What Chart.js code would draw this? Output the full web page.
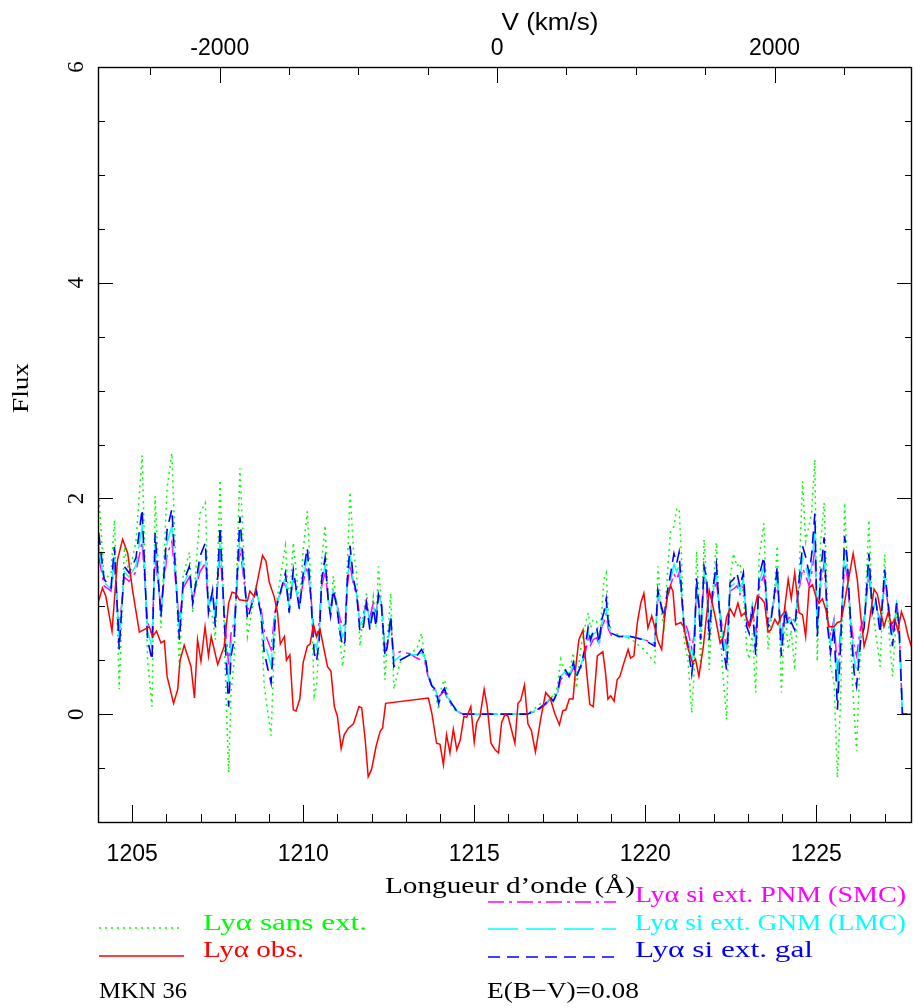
<!DOCTYPE html>
<html>
<head>
<meta charset="utf-8">
<title>MKN 36 - Lyα</title>
<script src="https://cdn.jsdelivr.net/npm/chart.js@4.4.1/dist/chart.umd.min.js"></script>
<style>
  html, body { margin: 0; padding: 0; background: #fff; }
  canvas { display: block; }
</style>
</head>
<body>
<canvas id="spectrum" width="914" height="1008"></canvas>
<script>
// wavelength grid of the model profiles (Å)
const modelWave = [
  1204.02, 1204.18, 1204.38, 1204.48, 1204.62, 1204.77, 1204.91, 1205.11, 1205.29, 1205.45,
  1205.58, 1205.67, 1205.84, 1206.02, 1206.16, 1206.38, 1206.49, 1206.67, 1206.77, 1206.98,
  1207.14, 1207.23, 1207.35, 1207.43, 1207.57, 1207.74, 1207.82, 1207.89, 1207.98, 1208.15,
  1208.37, 1208.62, 1208.76, 1208.86, 1209.06, 1209.2, 1209.48, 1209.59, 1209.71, 1209.89,
  1210.0, 1210.12, 1210.22, 1210.32, 1210.39, 1210.47, 1210.54, 1210.64, 1210.73, 1210.8,
  1210.88, 1210.98, 1211.08, 1211.15, 1211.22, 1211.29, 1211.37, 1211.47, 1211.56, 1211.66,
  1211.76, 1211.85, 1211.95, 1212.05, 1212.13, 1212.2, 1212.29, 1212.39, 1212.46, 1212.56,
  1212.65, 1212.83, 1213.12, 1213.32, 1213.46, 1213.56, 1213.64, 1213.76, 1213.87, 1213.96,
  1214.05, 1214.13, 1214.21, 1214.34, 1214.49, 1214.68, 1216.55, 1216.84, 1217.09, 1217.22,
  1217.31, 1217.43, 1217.53, 1217.67, 1217.77, 1217.9, 1217.99, 1218.11, 1218.23, 1218.33,
  1218.4, 1218.48, 1218.58, 1218.65, 1218.73, 1218.79, 1218.86, 1218.92, 1219.01, 1219.23,
  1219.57, 1219.96, 1220.28, 1220.37, 1220.47, 1220.55, 1220.65, 1220.74, 1220.84, 1220.92,
  1220.99, 1221.06, 1221.13, 1221.25, 1221.36, 1221.43, 1221.5, 1221.57, 1221.62, 1221.72,
  1221.8, 1221.87, 1221.96, 1222.08, 1222.16, 1222.26, 1222.38, 1222.48, 1222.58, 1222.68,
  1222.77, 1222.87, 1222.97, 1223.04, 1223.13, 1223.23, 1223.33, 1223.47, 1223.59, 1223.67,
  1223.79, 1223.86, 1223.98, 1224.09, 1224.18, 1224.27, 1224.37, 1224.5, 1224.6, 1224.69,
  1224.79, 1224.86, 1224.96, 1225.03, 1225.13, 1225.23, 1225.33, 1225.42, 1225.52, 1225.62,
  1225.72, 1225.83, 1225.91, 1226.01, 1226.11, 1226.18, 1226.3, 1226.4, 1226.54, 1226.64,
  1226.74, 1226.87, 1227.0, 1227.13, 1227.23, 1227.35, 1227.42, 1227.52, 1227.8
];

// Lya without extinction (green, dotted)
const sansExt = [
  2.05, 1.25, 1.3, 1.8, 0.23, 1.55, 1.3, 1.6, 2.4, 0.5,
  0.07, 2.02, 0.8, 2.1, 2.42, 0.41, 1.28, 1.5, 0.94, 1.86,
  1.96, 1.0, 0.9, 0.69, 2.17, 0.2, -0.54, 0.2, 0.5, 2.28,
  0.72, 1.2, 0.94, 0.26, -0.2, 1.0, 1.56, 1.0, 1.59, 1.0,
  1.52, 1.88, 1.25, 0.17, 0.26, 0.69, 1.43, 1.75, 1.06, 0.91,
  1.28, 1.0, 0.69, 0.44, 0.63, 1.37, 2.06, 1.52, 1.31, 0.63,
  0.94, 1.12, 0.81, 1.09, 0.81, 1.37, 1.0, 0.32, 0.69, 1.12,
  0.23, 0.48, 0.57, 0.6, 0.75, 0.5, 0.38, 0.26, 0.17, 0.04,
  0.26, 0.32, 0.2, 0.07, 0.02, 0.0, 0.0, 0.07, 0.14, 0.19,
  0.15, 0.25, 0.51, 0.38, 0.38, 0.57, 0.24, 0.6, 0.8, 0.94,
  0.8, 0.88, 0.86, 0.7, 0.95, 1.25, 1.31, 0.94, 0.75, 0.74,
  0.7, 0.6, 0.48, 1.37, 0.94, 0.81, 1.3, 1.7, 1.74, 1.9,
  1.91, 1.46, 0.69, 0.5, 0.01, 0.38, 1.51, 1.06, 0.41, 1.62,
  1.2, 0.41, 1.06, 1.59, 1.0, 0.41, -0.05, 1.25, 1.49, 1.37,
  1.4, 1.12, 0.6, 0.51, 0.75, 0.2, 1.46, 1.77, 0.6, 0.85,
  1.2, 1.56, 0.2, 0.94, 0.6, 0.78, 0.41, 1.3, 2.16, 1.6,
  1.75, 1.85, 2.36, 0.49, 1.6, 1.96, 1.0, 0.45, 0.3, -0.59,
  0.2, 1.96, 1.37, 0.63, 0.0, -0.34, 0.69, 0.8, 1.8, 1.0,
  0.75, 0.44, 1.48, 0.75, 0.35, 0.94, 0.75, 0.0, 0.0
];

// Lya with galactic extinction (blue, dashed)
const galExt = [
  1.68, 1.25, 1.17, 1.55, 0.6, 1.37, 1.31, 1.45, 1.9, 0.69,
  0.5, 1.68, 0.9, 1.71, 1.9, 0.69, 1.22, 1.37, 1.03, 1.46,
  1.59, 0.94, 1.15, 0.81, 1.74, 0.54, 0.07, 0.54, 0.69, 1.83,
  0.88, 1.15, 0.94, 0.57, 0.29, 0.97, 1.31, 0.94, 1.34, 0.97,
  1.31, 1.54, 1.1, 0.57, 0.49, 0.69, 1.25, 1.45, 1.06, 0.91,
  1.15, 1.0, 0.75, 0.63, 0.67, 1.25, 1.56, 1.25, 1.12, 0.76,
  0.81, 1.02, 0.78, 0.98, 0.81, 1.11, 1.0, 0.54, 0.63, 0.91,
  0.44, 0.5, 0.55, 0.54, 0.6, 0.54, 0.38, 0.26, 0.23, 0.1,
  0.2, 0.24, 0.16, 0.1, 0.03, 0.0, 0.0, 0.04, 0.1, 0.16,
  0.12, 0.2, 0.37, 0.41, 0.35, 0.48, 0.35, 0.44, 0.6, 0.8,
  0.69, 0.77, 0.8, 0.66, 0.88, 0.94, 1.07, 0.85, 0.75, 0.72,
  0.72, 0.69, 0.63, 1.15, 1.0, 0.88, 1.14, 1.3, 1.49, 1.4,
  1.5, 1.15, 0.81, 0.63, 0.37, 0.57, 1.26, 1.0, 0.69, 1.37,
  1.25, 0.69, 1.12, 1.39, 1.0, 0.66, 0.41, 1.22, 1.25, 1.31,
  1.18, 1.31, 0.81, 0.75, 1.0, 0.55, 1.28, 1.46, 0.81, 0.85,
  1.15, 1.37, 0.54, 0.97, 0.81, 0.85, 0.78, 1.25, 1.56, 1.46,
  1.31, 1.46, 1.86, 0.72, 1.31, 1.64, 0.81, 0.57, 0.81, 0.04,
  0.69, 1.65, 1.43, 0.81, 0.38, 0.26, 0.69, 0.8, 1.49, 0.94,
  1.06, 0.75, 1.34, 0.94, 0.63, 1.03, 0.81, 0.0, 0.0
];

// Lya with LMC-type extinction (cyan, long dashes)
const lmcExt = [
  1.56, 1.22, 1.16, 1.46, 0.7, 1.32, 1.27, 1.38, 1.74, 0.77,
  0.62, 1.56, 0.94, 1.59, 1.74, 0.77, 1.2, 1.32, 1.04, 1.39,
  1.49, 0.97, 1.14, 0.87, 1.61, 0.65, 0.28, 0.65, 0.77, 1.68,
  0.92, 1.14, 0.97, 0.68, 0.45, 1.0, 1.27, 0.97, 1.29, 1.0,
  1.27, 1.45, 1.1, 0.68, 0.61, 0.77, 1.22, 1.38, 1.07, 0.95,
  1.14, 1.02, 0.82, 0.72, 0.76, 1.22, 1.47, 1.22, 1.12, 0.83,
  0.87, 1.04, 0.84, 1.0, 0.87, 1.11, 1.02, 0.57, 0.64, 0.87,
  0.49, 0.54, 0.55, 0.55, 0.57, 0.52, 0.38, 0.27, 0.22, 0.13,
  0.2, 0.23, 0.16, 0.1, 0.03, 0.0, 0.0, 0.04, 0.1, 0.15,
  0.12, 0.2, 0.35, 0.4, 0.35, 0.46, 0.37, 0.44, 0.58, 0.76,
  0.67, 0.74, 0.77, 0.66, 0.84, 0.89, 1.0, 0.82, 0.74, 0.72,
  0.72, 0.69, 0.65, 1.12, 1.0, 0.9, 1.11, 1.24, 1.39, 1.32,
  1.4, 1.12, 0.85, 0.7, 0.5, 0.66, 1.21, 1.0, 0.75, 1.3,
  1.2, 0.75, 1.1, 1.31, 1.0, 0.73, 0.53, 1.18, 1.2, 1.25,
  1.14, 1.25, 0.85, 0.8, 1.0, 0.64, 1.22, 1.37, 0.85, 0.88,
  1.12, 1.3, 0.63, 0.98, 0.85, 0.88, 0.82, 1.2, 1.45, 1.37,
  1.25, 1.37, 1.69, 0.78, 1.25, 1.51, 0.85, 0.66, 0.85, 0.23,
  0.75, 1.52, 1.34, 0.85, 0.5, 0.41, 0.75, 0.84, 1.39, 0.95,
  1.05, 0.8, 1.27, 0.95, 0.7, 1.02, 0.85, 0.0, 0.0
];

// Lya with SMC-type extinction (magenta, dash-dot)
const smcExt = [
  1.46, 1.19, 1.14, 1.38, 0.79, 1.27, 1.23, 1.32, 1.6, 0.85,
  0.73, 1.46, 0.98, 1.48, 1.6, 0.85, 1.17, 1.27, 1.06, 1.32,
  1.4, 1.0, 1.13, 0.92, 1.5, 0.75, 0.46, 0.75, 0.85, 1.55,
  0.96, 1.13, 1.0, 0.77, 0.6, 1.02, 1.23, 1.0, 1.25, 1.02,
  1.23, 1.37, 1.1, 0.77, 0.72, 0.85, 1.19, 1.32, 1.08, 0.98,
  1.13, 1.04, 0.88, 0.81, 0.83, 1.19, 1.39, 1.19, 1.11, 0.89,
  0.92, 1.05, 0.9, 1.03, 0.92, 1.11, 1.04, 0.6, 0.66, 0.83,
  0.54, 0.58, 0.56, 0.52, 0.5, 0.48, 0.36, 0.26, 0.22, 0.16,
  0.19, 0.21, 0.15, 0.09, 0.03, 0.0, 0.0, 0.03, 0.09, 0.14,
  0.12, 0.19, 0.32, 0.38, 0.34, 0.43, 0.38, 0.42, 0.54, 0.7,
  0.64, 0.69, 0.71, 0.64, 0.81, 0.85, 0.93, 0.79, 0.73, 0.72,
  0.72, 0.69, 0.66, 1.09, 1.0, 0.93, 1.09, 1.19, 1.3, 1.25,
  1.31, 1.09, 0.88, 0.77, 0.61, 0.73, 1.16, 1.0, 0.81, 1.23,
  1.16, 0.81, 1.07, 1.24, 1.0, 0.79, 0.63, 1.14, 1.16, 1.19,
  1.11, 1.19, 0.88, 0.84, 1.0, 0.72, 1.17, 1.29, 0.88, 0.91,
  1.09, 1.23, 0.71, 0.98, 0.88, 0.91, 0.86, 1.16, 1.35, 1.29,
  1.19, 1.29, 1.53, 0.83, 1.19, 1.4, 0.88, 0.73, 0.88, 0.4,
  0.81, 1.4, 1.27, 0.88, 0.62, 0.54, 0.81, 0.88, 1.3, 0.96,
  1.04, 0.85, 1.21, 0.96, 0.77, 1.02, 0.88, 0.0, 0.0
];

// observed spectrum (red)
const obsWave = [
  1204.0, 1204.13, 1204.23, 1204.41, 1204.57, 1204.72, 1204.87, 1205.01, 1205.21, 1205.5,
  1205.6, 1205.71, 1205.84, 1205.94, 1206.02, 1206.21, 1206.33, 1206.4, 1206.52, 1206.72,
  1206.82, 1206.91, 1207.01, 1207.13, 1207.23, 1207.31, 1207.5, 1207.69, 1207.82, 1207.92,
  1208.03, 1208.13, 1208.37, 1208.44, 1208.57, 1208.81, 1208.91, 1209.01, 1209.15, 1209.25,
  1209.33, 1209.45, 1209.51, 1209.61, 1209.71, 1209.79, 1209.9, 1210.0, 1210.12, 1210.2,
  1210.3, 1210.39, 1210.49, 1210.59, 1210.71, 1210.81, 1210.91, 1211.0, 1211.11, 1211.2,
  1211.32, 1211.47, 1211.54, 1211.63, 1211.71, 1211.81, 1211.9, 1212.0, 1212.13, 1212.25,
  1212.32, 1212.41, 1213.66, 1213.76, 1213.9, 1214.0, 1214.1, 1214.19, 1214.29, 1214.39,
  1214.49, 1214.59, 1214.7, 1214.78, 1214.9, 1215.0, 1215.07, 1215.17, 1215.29, 1215.38,
  1215.49, 1215.61, 1215.71, 1215.8, 1215.9, 1215.99, 1216.19, 1216.28, 1216.36, 1216.47,
  1216.57, 1216.67, 1216.79, 1216.94, 1217.09, 1217.22, 1217.35, 1217.49, 1217.59, 1217.68,
  1217.78, 1217.89, 1217.97, 1218.06, 1218.18, 1218.29, 1218.38, 1218.48, 1218.6, 1218.76,
  1218.84, 1218.91, 1218.99, 1219.09, 1219.18, 1219.26, 1219.38, 1219.5, 1219.57, 1219.67,
  1219.77, 1219.87, 1219.96, 1220.08, 1220.19, 1220.3, 1220.37, 1220.48, 1220.57, 1220.65,
  1220.74, 1220.81, 1220.89, 1221.04, 1221.13, 1221.23, 1221.38, 1221.47, 1221.57, 1221.7,
  1221.87, 1221.96, 1222.06, 1222.19, 1222.29, 1222.38, 1222.48, 1222.6, 1222.71, 1222.81,
  1222.91, 1223.04, 1223.16, 1223.28, 1223.4, 1223.49, 1223.59, 1223.67, 1223.79, 1223.88,
  1223.98, 1224.06, 1224.18, 1224.27, 1224.37, 1224.5, 1224.6, 1224.69, 1224.79, 1224.89,
  1224.99, 1225.08, 1225.18, 1225.28, 1225.37, 1225.52, 1225.62, 1225.72, 1225.81, 1225.91,
  1226.08, 1226.2, 1226.3, 1226.4, 1226.5, 1226.59, 1226.69, 1226.79, 1226.89, 1226.98,
  1227.1, 1227.2, 1227.3, 1227.39, 1227.49, 1227.59, 1227.69, 1227.78, 1227.8
];
const obsFlux = [
  1.03, 1.17, 1.09, 0.77, 1.43, 1.62, 1.49, 1.15, 0.76, 0.81,
  0.72, 0.77, 0.66, 0.68, 0.35, 0.1, 0.23, 0.5, 0.64, 0.44,
  0.15, 0.69, 0.49, 0.81, 0.54, 0.72, 0.46, 0.63, 1.03, 1.13,
  1.12, 1.06, 1.05, 1.14, 1.09, 1.47, 1.42, 1.22, 1.09, 0.94,
  0.65, 0.72, 0.5, 0.55, 0.04, 0.03, 0.14, 0.48, 0.63, 0.65,
  0.83, 0.72, 0.79, 0.63, 0.44, 0.4, 0.07, -0.02, -0.32, -0.19,
  -0.13, -0.09, -0.02, 0.07, 0.06, -0.23, -0.58, -0.51, -0.3, -0.16,
  -0.13, 0.1, 0.15, 0.01, -0.27, -0.28, -0.47, -0.19, -0.36, -0.14,
  -0.33, -0.24, -0.02, -0.03, 0.07, -0.26, -0.08, -0.02, 0.23, 0.07,
  -0.27, -0.33, -0.36, -0.08, 0.0, -0.02, -0.27, 0.1, 0.13, 0.27,
  -0.09, -0.15, -0.35, -0.05, 0.2, 0.15, 0.01, -0.1, 0.03, 0.04,
  0.14, 0.14, 0.44, 0.69, 0.78, 0.38, 0.09, 0.07, 0.54, 0.58,
  0.38, 0.14, 0.17, 0.12, 0.32, 0.35, 0.48, 0.6, 0.52, 0.54,
  0.85, 1.03, 1.12, 0.8, 0.91, 0.78, 0.68, 0.6, 0.91, 1.09,
  1.19, 1.14, 0.83, 0.85, 0.81, 0.63, 0.48, 0.51, 0.35, 0.63,
  1.15, 1.03, 0.88, 0.66, 0.72, 0.9, 0.98, 0.91, 1.03, 0.91,
  0.94, 0.81, 0.92, 1.1, 1.07, 1.03, 0.76, 0.78, 0.88, 0.83,
  0.91, 0.94, 1.25, 1.07, 1.31, 0.94, 0.92, 0.72, 1.17, 1.2,
  1.09, 1.03, 1.07, 0.97, 0.81, 0.81, 0.85, 0.86, 1.0, 1.19,
  1.49, 1.25, 0.91, 0.63, 0.75, 0.94, 1.16, 1.11, 0.94, 0.81,
  0.94, 0.83, 0.88, 0.77, 0.95, 0.86, 0.72, 0.63, 0.65
];

// axis ticks
const waveTicks = [1205, 1210, 1215, 1220, 1225];
const velTicks = [-2000, 0, 2000];
const fluxTicks = [0, 2, 4, 6];

const seriesNames = {
  none: "Lyα sans ext.",
  obs: "Lyα obs.",
  smc: "Lyα si ext. PNM (SMC)",
  lmc: "Lyα si ext. GNM (LMC)",
  gal: "Lyα si ext. gal"
};
const objectName = "MKN 36";
const reddening = "E(B−V)=0.08";

const LAMBDA0 = 1215.67;
const C_KMS = 299792.458;
const waveMin = 1204, waveMax = 1227.8;
const toVel = w => C_KMS * (w - LAMBDA0) / LAMBDA0;

const serif = '"Liberation Serif", "DejaVu Serif", serif';
const sans = '"Liberation Sans", Arial, sans-serif';

const look = {
  none: { color: "#00ff00", dash: [2, 4], width: 1.5 },
  obs:  { color: "#ff0000", dash: [], width: 1.5 },
  smc:  { color: "#ff00ff", dash: [16, 5, 3, 5], width: 1.5 },
  lmc:  { color: "#00ffff", dash: [30, 8], width: 1.5 },
  gal:  { color: "#0000ff", dash: [12, 7], width: 1.6 }
};

function pts(xs, ys) {
  return xs.map((x, i) => ({ x: x, y: ys[i] }));
}

function lineSet(key, xs, ys, order) {
  return {
    label: seriesNames[key],
    data: pts(xs, ys),
    borderColor: look[key].color,
    borderDash: look[key].dash,
    borderWidth: look[key].width,
    pointRadius: 0,
    fill: false,
    tension: 0,
    order: order
  };
}

// text squeezed/stretched to the width it has in the plot
function putText(ctx, s, x, y, w, font, color, align) {
  ctx.save();
  ctx.font = font;
  ctx.fillStyle = color;
  ctx.textAlign = align || "left";
  ctx.textBaseline = "alphabetic";
  const k = w ? w / ctx.measureText(s).width : 1;
  ctx.translate(x, y);
  ctx.scale(k, 1);
  ctx.fillText(s, 0, 0);
  ctx.restore();
}

function putUpText(ctx, s, x, y, w, font) {
  ctx.save();
  ctx.font = font;
  ctx.fillStyle = "#000";
  ctx.textAlign = "center";
  ctx.textBaseline = "middle";
  const k = w ? w / ctx.measureText(s).width : 1;
  ctx.translate(x, y);
  ctx.rotate(-Math.PI / 2);
  ctx.scale(k, 1);
  ctx.fillText(s, 0, 0);
  ctx.restore();
}

const pgDecor = {
  id: "pgDecor",
  afterDraw(chart) {
    const ctx = chart.ctx, a = chart.chartArea;
    const xs = chart.scales.x, ys = chart.scales.y, vs = chart.scales.v;
    const seg = (x1, y1, x2, y2) => {
      ctx.beginPath(); ctx.moveTo(x1, y1); ctx.lineTo(x2, y2); ctx.stroke();
    };
    ctx.save();
    ctx.strokeStyle = "#000";
    ctx.setLineDash([]);

    // frame
    ctx.lineWidth = 1.4;
    ctx.strokeRect(a.left + 0.5, a.top + 0.5, a.right - a.left - 1, a.bottom - a.top);

    ctx.lineWidth = 1;
    // wavelength ticks (bottom)
    for (let w = Math.ceil(waveMin); w <= waveMax; w++) {
      const px = Math.round(xs.getPixelForValue(w)) + 0.5;
      seg(px, a.bottom, px, a.bottom - (w % 5 === 0 ? 17 : 8));
    }
    // velocity ticks (top)
    for (let v = -2500; v <= 2500; v += 500) {
      const px = Math.round(vs.getPixelForValue(v)) + 0.5;
      seg(px, a.top, px, a.top + (v % 2000 === 0 ? 16 : 8));
    }
    // flux ticks (left and right)
    for (let f = -0.5; f < 6; f += 0.5) {
      const py = Math.round(ys.getPixelForValue(f)) + 0.5;
      const len = f % 2 === 0 ? 15 : 7;
      seg(a.left, py, a.left + len, py);
      seg(a.right, py, a.right - len, py);
    }

    // tick labels
    const tickFont = "23px " + sans;
    waveTicks.forEach(w => putText(ctx, String(w), xs.getPixelForValue(w), 861, 0, tickFont, "#000", "center"));
    velTicks.forEach(v => putText(ctx, String(v), vs.getPixelForValue(v), 55, 0, tickFont, "#000", "center"));
    fluxTicks.forEach(f => putUpText(ctx, String(f), 77, ys.getPixelForValue(f), 0, "23px " + serif));

    // axis titles
    putText(ctx, "V (km/s)", 550, 30, 97, "23px " + sans, "#000", "center");
    putUpText(ctx, "Flux", 22, 388, 50, "23px " + serif);
    putText(ctx, "Longueur d’onde (Å)", 385, 893, 250, "23px " + serif, "#000");

    // legend
    const legendFont = "23px " + serif;
    const sample = (key, x1, x2, y) => {
      ctx.save();
      ctx.strokeStyle = look[key].color;
      ctx.lineWidth = 1.5;
      ctx.setLineDash(look[key].dash);
      seg(x1, y, x2, y);
      ctx.restore();
    };
    sample("smc", 488, 616, 902);
    putText(ctx, seriesNames.smc, 635, 902, 271, legendFont, look.smc.color);
    sample("none", 99, 181, 928);
    putText(ctx, seriesNames.none, 203, 930, 164, legendFont, look.none.color);
    sample("lmc", 488, 616, 929);
    putText(ctx, seriesNames.lmc, 635, 930, 271, legendFont, look.lmc.color);
    sample("obs", 99, 184, 956);
    putText(ctx, seriesNames.obs, 203, 957, 101, legendFont, look.obs.color);
    sample("gal", 488, 616, 957);
    putText(ctx, seriesNames.gal, 635, 957, 178, legendFont, look.gal.color);

    putText(ctx, objectName, 99, 998, 88, legendFont, "#000");
    putText(ctx, reddening, 487, 998, 152, legendFont, "#000");
    ctx.restore();
  }
};

new Chart(document.getElementById("spectrum"), {
  type: "line",
  data: {
    datasets: [
      lineSet("obs", obsWave, obsFlux, 0),
      lineSet("gal", modelWave, galExt, 1),
      lineSet("lmc", modelWave, lmcExt, 2),
      lineSet("smc", modelWave, smcExt, 3),
      lineSet("none", modelWave, sansExt, 4)
    ]
  },
  options: {
    responsive: false,
    animation: false,
    devicePixelRatio: 1,
    layout: { padding: { left: 0, right: 2, top: 0, bottom: 0 } },
    plugins: { legend: { display: false }, tooltip: { enabled: false } },
    scales: {
      x: {
        type: "linear", position: "bottom", min: waveMin, max: waveMax,
        grid: { display: false }, border: { display: false }, ticks: { display: false },
        afterFit: s => { s.height = 186; }
      },
      v: {
        type: "linear", position: "top", min: toVel(waveMin), max: toVel(waveMax),
        grid: { display: false }, border: { display: false }, ticks: { display: false },
        afterFit: s => { s.height = 67; }
      },
      y: {
        type: "linear", position: "left", min: -1, max: 6,
        grid: { display: false }, border: { display: false }, ticks: { display: false },
        afterFit: s => { s.width = 98; }
      }
    }
  },
  plugins: [pgDecor]
});
</script>
</body>
</html>
